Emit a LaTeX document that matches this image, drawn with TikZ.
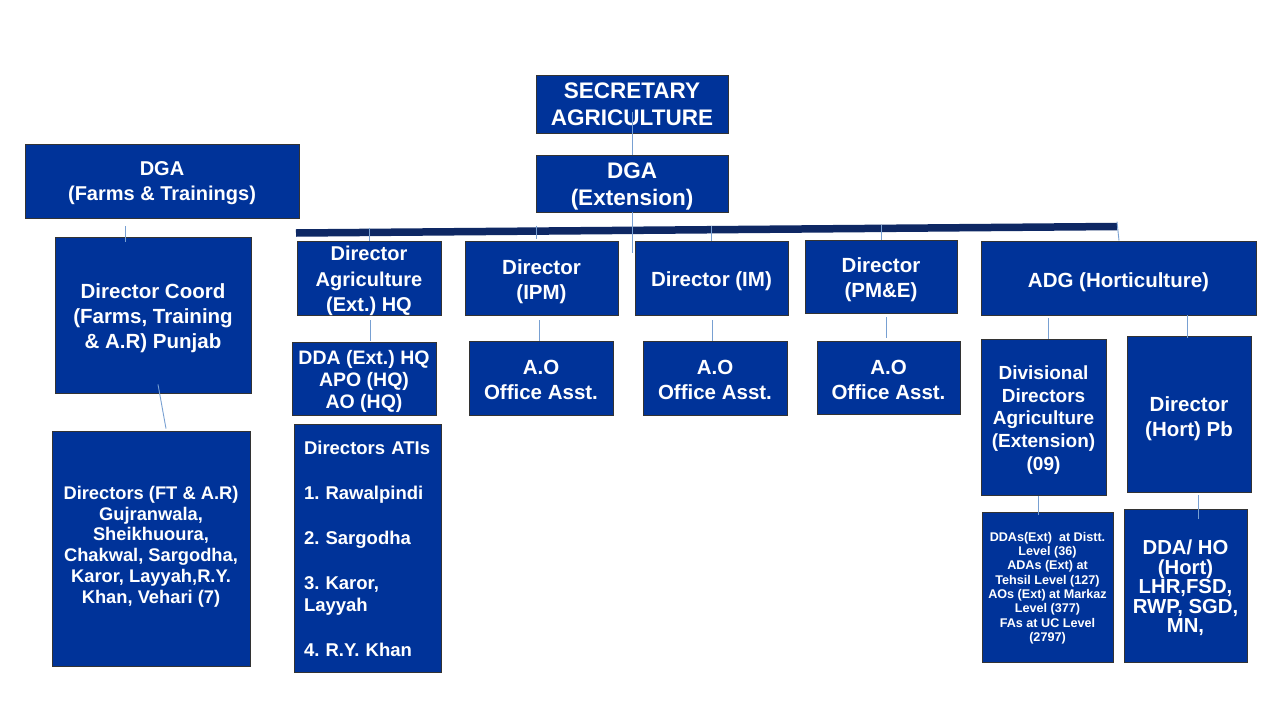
\documentclass[tikz,border=0pt]{standalone}
\usepackage{fontspec}
\setmainfont{Liberation Sans}
\usetikzlibrary{calc}
\definecolor{boxblue}{RGB}{0,51,153}
\definecolor{barblue}{RGB}{14,40,100}
\definecolor{connblue}{RGB}{120,160,210}
\newcommand\boxfont[2]{\fontsize{#1}{#2}\selectfont\bfseries\frenchspacing}
\begin{document}
\begin{tikzpicture}[x=1pt,y=-1pt,
 box/.style={draw=black!80, line width=0.8pt, fill=boxblue, inner sep=0pt},
 txt/.style={text=white, align=center, inner sep=0pt},
 conn/.style={draw=connblue, line width=0.9pt},
 hbar/.style={draw=barblue, line width=7.5pt}]
\useasboundingbox[fill=white] (0,0) rectangle (1280,720);

% main bar
\coordinate (barL) at (296,233);
\coordinate (barR) at (1117,226.5);
\draw[hbar] (barL) -- (barR);

% boxes
\node[box, minimum width=192pt, minimum height=58pt] (sec) at (632,104) {};
\node[box, minimum width=192pt, minimum height=57pt] (dga) at (632,183.5) {};
\node[box, minimum width=274pt, minimum height=74pt] (farms) at (162,181) {};
\node[box, minimum width=196pt, minimum height=156pt] (coord) at (153,315) {};
\node[box, minimum width=198pt, minimum height=235pt] (ft) at (151,548.5) {};
\node[box, minimum width=144pt, minimum height=74pt] (dirag) at (369,278) {};
\node[box, minimum width=153pt, minimum height=74pt] (ipm) at (541.5,278) {};
\node[box, minimum width=153pt, minimum height=74pt] (im) at (711.5,278) {};
\node[box, minimum width=152pt, minimum height=73pt] (pme) at (881,276.5) {};
\node[box, minimum width=275pt, minimum height=74pt] (adg) at (1118.5,278) {};
\node[box, minimum width=144pt, minimum height=73pt] (dda) at (364,378.5) {};
\node[box, minimum width=144pt, minimum height=74pt] (aoipm) at (541,378) {};
\node[box, minimum width=144pt, minimum height=74pt] (aoim) at (715,378) {};
\node[box, minimum width=143pt, minimum height=73pt] (aopme) at (888.5,377.5) {};
\node[box, minimum width=125pt, minimum height=156pt] (div) at (1043.5,417) {};
\node[box, minimum width=124pt, minimum height=156pt] (hort) at (1189,414) {};
\node[box, minimum width=147pt, minimum height=248pt] (ati) at (367.5,548) {};
\node[box, minimum width=131pt, minimum height=150pt] (ddas) at (1047.5,587) {};
\node[box, minimum width=123pt, minimum height=153pt] (ddaho) at (1185.5,585.5) {};

% texts
\node[txt, font=\boxfont{22.5}{27}] (secT) at ([yshift=-0.5pt]sec.center) {SECRETARY\\AGRICULTURE};
\node[txt, font=\boxfont{22.5}{27}] (dgaT) at ([yshift=-3pt]dga.center) {DGA\\(Extension)};
\node[txt, font=\boxfont{20}{25}] (farmsT) at ([yshift=-2pt]farms.center) {DGA\\(Farms \& Trainings)};
\node[txt, font=\boxfont{20.5}{25}] (coordT) at ([yshift=-3pt]coord.center) {Director Coord\\(Farms, Training\\\& A.R) Punjab};
\node[txt, font=\boxfont{18.3}{20.8}] (ftT) at ([yshift=2pt]ft.center) {Directors (FT \& A.R)\\Gujranwala,\\Sheikhuoura,\\Chakwal, Sargodha,\\Karor, Layyah,R.Y.\\Khan, Vehari (7)};
\node[txt, font=\boxfont{20}{25.5}] (diragT) at ([yshift=-3pt]dirag.center) {Director\\Agriculture\\(Ext.) HQ};
\node[txt, font=\boxfont{20.5}{25}] (ipmT) at ([yshift=-4pt]ipm.center) {Director\\(IPM)};
\node[txt, font=\boxfont{20.5}{25}] (imT) at ([yshift=-3pt]im.center) {Director (IM)};
\node[txt, font=\boxfont{20.5}{25}] (pmeT) at ([yshift=-3pt]pme.center) {Director\\(PM\&E)};
\node[txt, font=\boxfont{20.5}{25}] (adgT) at ([yshift=-4pt]adg.center) {ADG (Horticulture)};
\node[txt, font=\boxfont{19.5}{22}] (ddaT) at ([yshift=-3pt]dda.center) {DDA (Ext.) HQ\\APO (HQ)\\AO (HQ)};
\node[txt, font=\boxfont{20.5}{25}] (aoipmT) at ([yshift=-2pt]aoipm.center) {A.O\\Office Asst.};
\node[txt, font=\boxfont{20.5}{25}] (aoimT) at ([yshift=-2pt]aoim.center) {A.O\\Office Asst.};
\node[txt, font=\boxfont{20.5}{25}] (aopmeT) at ([yshift=-2pt]aopme.center) {A.O\\Office Asst.};
\node[txt, font=\boxfont{19}{22.7}] (divT) at ([yshift=-3pt]div.center) {Divisional\\Directors\\Agriculture\\(Extension)\\(09)};
\node[txt, font=\boxfont{20.5}{25}] (hortT) at ([yshift=-5pt]hort.center) {Director\\(Hort) Pb};
\node[txt, text width=127pt, align=left, font=\boxfont{18.5}{22.5}] (atiT) at ([yshift=-1pt]ati.center) {Directors ATIs\\[22.5pt]1. Rawalpindi\\[22.5pt]2. Sargodha\\[22.5pt]3. Karor,\\Layyah\\[22.5pt]4. R.Y. Khan};
\node[txt, font=\boxfont{12.6}{14.3}] (ddasT) at ([yshift=-1pt]ddas.center) {DDAs(Ext)\ \ at Distt.\\Level (36)\\ADAs (Ext) at\\Tehsil Level (127)\\AOs (Ext) at Markaz\\Level (377)\\FAs at UC Level\\(2797)};
\node[txt, font=\boxfont{20.3}{19.4}] (ddahoT) at ([yshift=-2.5pt]ddaho.center) {DDA/ HO\\(Hort)\\LHR,FSD,\\RWP, SGD,\\MN,};

% connectors
\draw[conn] ($(sec.south)+(0,-21)$) -- (dga.north);
\draw[conn] (dga.south) -- ($(dga.south)+(0,41)$);
\draw[conn] ($(farms.south)+(-37,8)$) -- ($(coord.north)+(-28,5)$);
\draw[conn] ($(coord.south)+(5,-9)$) -- ($(ft.north)+(15,-2)$);
\draw[conn] ($(dirag.north)+(0,-13)$) -- (dirag.north);
\draw[conn] ($(ipm.north)+(-5.5,-15)$) -- ($(ipm.north)+(-5.5,-2)$);
\draw[conn] ($(im.north)+(0,-15)$) -- (im.north);
\draw[conn] ($(pme.north)+(0,-15)$) -- (pme.north);
\draw[conn] ($(adg.north)+(-1.5,-19)$) -- ($(adg.north)+(0.5,0)$);
\draw[conn] ($(dirag.south)+(1,5)$) -- ($(dda.north)+(6,-1)$);
\draw[conn] ($(ipm.south)+(-2.5,5)$) -- ($(aoipm.north)+(-2,0)$);
\draw[conn] ($(im.south)+(0.5,5)$) -- ($(aoim.north)+(-3,0)$);
\draw[conn] ($(pme.south)+(5,4)$) -- ($(aopme.north)+(-2.5,-3)$);
\draw[conn] ($(adg.south)+(-70.5,3)$) -- ($(div.north)+(4.5,0)$);
\draw[conn] ($(adg.south)+(68.5,0)$) -- ($(hort.north)+(-2,2)$);
\draw[conn] ($(div.south)+(-5.5,1)$) -- ($(ddas.north)+(-9.5,3)$);
\draw[conn] ($(hort.south)+(9,3)$) -- ($(ddaho.north)+(12.5,10)$);
\end{tikzpicture}
\end{document}
